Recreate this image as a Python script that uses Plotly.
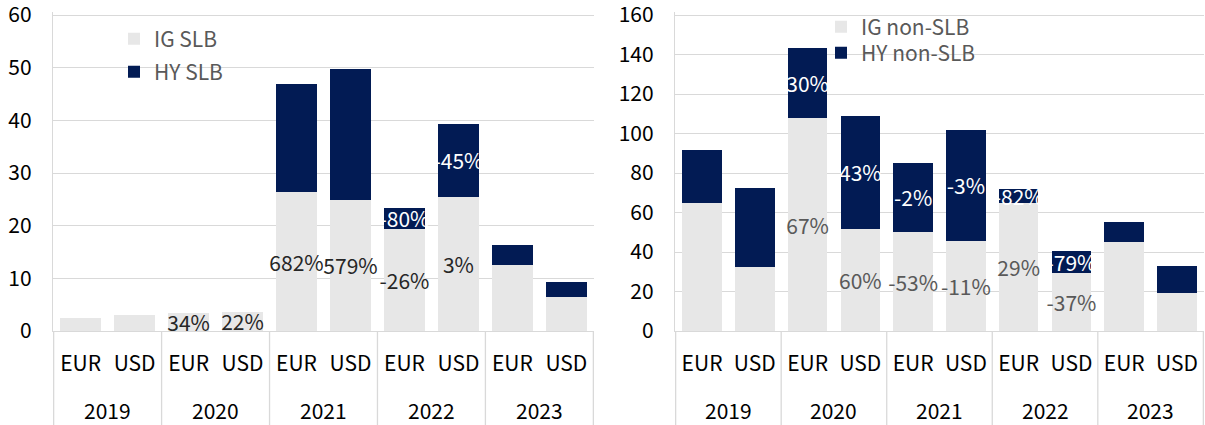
import plotly.graph_objects as go

# ---------------- data ----------------
years = ["2019", "2019", "2020", "2020", "2021", "2021", "2022", "2022", "2023", "2023"]
currencies = ["EUR", "USD", "EUR", "USD", "EUR", "USD", "EUR", "USD", "EUR", "USD"]

ig_slb = [2.5, 3.0, 3.4, 3.7, 26.3, 24.9, 19.4, 25.5, 12.5, 6.5]
hy_slb = [0, 0, 0, 0, 20.6, 24.8, 4.0, 13.8, 3.8, 2.8]
ig_slb_labels = ["", "", "34%", "22%", "682%", "579%", "-26%", "3%", "", ""]
hy_slb_labels = ["", "", "", "", "", "", "-80%", "-45%", "", ""]

ig_non_slb = [64.8, 32.4, 107.8, 51.6, 50.1, 45.6, 64.8, 29.4, 45.0, 19.2]
hy_non_slb = [26.8, 40.0, 35.5, 57.4, 35.0, 56.2, 7.1, 11.1, 10.2, 13.7]
ig_non_slb_labels = ["", "", "67%", "60%", "-53%", "-11%", "29%", "-37%", "", ""]
hy_non_slb_labels = ["", "", "30%", "43%", "-2%", "-3%", "-82%", "-79%", "", ""]

left_ticks = [0, 10, 20, 30, 40, 50, 60]
right_ticks = [0, 20, 40, 60, 80, 100, 120, 140, 160]

# ---------------- style ----------------
FONT = "Noto Sans CJK SC"
NAVY = "#021B54"
LIGHT = "#E7E7E7"
GRID = "#D9D9D9"
FS = 21

W, H = 1205, 425
TOP_GRID = 15          # pixel row of the top gridline
ML, MR, MT, MB = 53, 1, 12, 94
plot_h = H - MT - MB
paper_w = W - ML - MR
axis_span = H - MB - TOP_GRID          # pixels between 0 and the top tick
headroom = plot_h / axis_span          # keep top gridline just inside the plot

cats = [f"{y} {c}" for y, c in zip(years, currencies)]

fig = go.Figure()


def px_x(px):
    return (px - ML) / paper_w


def px_y(py):
    return 1 - (py - MT) / plot_h


def add_pair(ig, hy, ig_lbl, hy_lbl, names, xa, ya, legends, lbl_color):
    fig.add_trace(go.Bar(
        x=cats, y=ig, name=names[0], marker=dict(color=LIGHT, line=dict(width=0)),
        text=ig_lbl, textposition="inside", insidetextanchor="middle",
        constraintext="none", textangle=0,
        insidetextfont=dict(family=FONT, size=FS, color=lbl_color),
        xaxis=xa, yaxis=ya, legend=legends[0],
        hoverinfo="skip", cliponaxis=False,
    ))
    fig.add_trace(go.Bar(
        x=cats, y=hy, name=names[1], marker=dict(color=NAVY, line=dict(width=0)),
        text=hy_lbl, textposition="inside", insidetextanchor="middle",
        constraintext="none", textangle=0,
        insidetextfont=dict(family=FONT, size=FS, color="white"),
        xaxis=xa, yaxis=ya, legend=legends[1],
        hoverinfo="skip", cliponaxis=False,
    ))


add_pair(ig_slb, hy_slb, ig_slb_labels, hy_slb_labels, ["IG SLB", "HY SLB"],
         "x", "y", ["legend", "legend2"], "#262626")
add_pair(ig_non_slb, hy_non_slb, ig_non_slb_labels, hy_non_slb_labels,
         ["IG non-SLB", "HY non-SLB"], "x2", "y2", ["legend3", "legend4"], "#595959")

xdom1 = [0, px_x(594)]
xdom2 = [px_x(675), 1.0]

xcommon = dict(type="category", tickvals=cats, ticktext=currencies,
               showline=True, linecolor=GRID, linewidth=1.3,
               ticks="outside", ticklen=14, tickcolor="rgba(0,0,0,0)",
               tickfont=dict(family=FONT, size=FS, color="#000000"),
               showgrid=False, zeroline=False, fixedrange=True, automargin=False)
ycommon = dict(showline=True, linecolor=GRID, linewidth=1.3,
               showgrid=True, gridcolor=GRID, gridwidth=1.3,
               ticks="outside", ticklen=16, tickcolor="rgba(0,0,0,0)",
               tickfont=dict(family=FONT, size=FS, color="#000000"),
               ticklabeloverflow="allow",
               zeroline=False, fixedrange=True, automargin=False)


def leg(xpx, ypx):
    return dict(x=px_x(xpx), y=px_y(ypx), xanchor="left", yanchor="middle",
                bgcolor="rgba(0,0,0,0)", borderwidth=0,
                font=dict(family=FONT, size=FS, color="#595959"))


fig.update_layout(
    width=W, height=H,
    margin=dict(l=ML, r=MR, t=MT, b=MB),
    paper_bgcolor="white", plot_bgcolor="white",
    barmode="stack", bargap=0.25,
    font=dict(family=FONT, size=FS, color="#000000"),
    xaxis=dict(domain=xdom1, anchor="y", **xcommon),
    yaxis=dict(domain=[0, 1], anchor="x", range=[0, left_ticks[-1] * headroom],
               tickvals=left_ticks, **ycommon),
    xaxis2=dict(domain=xdom2, anchor="y2", **xcommon),
    yaxis2=dict(domain=[0, 1], anchor="x2", range=[0, right_ticks[-1] * headroom],
                tickvals=right_ticks, **ycommon),
    legend=leg(114, 39),
    legend2=leg(114, 72),
    legend3=leg(821, 27),
    legend4=leg(821, 53),
    showlegend=True,
)

# group dividers and year labels (positions derived from the category list)
shapes = []
annotations = []
for xa in ["x", "x2"]:
    bounds = [-0.5]
    for i in range(1, len(years)):
        if years[i] != years[i - 1]:
            bounds.append(i - 0.5)
    bounds.append(len(years) - 0.5)
    for b in bounds:
        shapes.append(dict(type="line", xref=xa, yref="paper", x0=b, x1=b,
                           y0=0, y1=-MB / plot_h, line=dict(color=GRID, width=1.3)))
    seen = []
    for y in years:
        if y not in seen:
            seen.append(y)
    for y in seen:
        idx = [i for i, v in enumerate(years) if v == y]
        annotations.append(dict(xref=xa, yref="paper", x=sum(idx) / len(idx), y=-79 / plot_h,
                                text=y, showarrow=False, yanchor="middle", xanchor="center",
                                font=dict(family=FONT, size=FS, color="#000000")))

fig.update_layout(shapes=shapes, annotations=annotations)

fig.write_html("out.html", config={"displayModeBar": False},
               post_script="document.body.style.margin='0';document.body.style.overflow='hidden';")
